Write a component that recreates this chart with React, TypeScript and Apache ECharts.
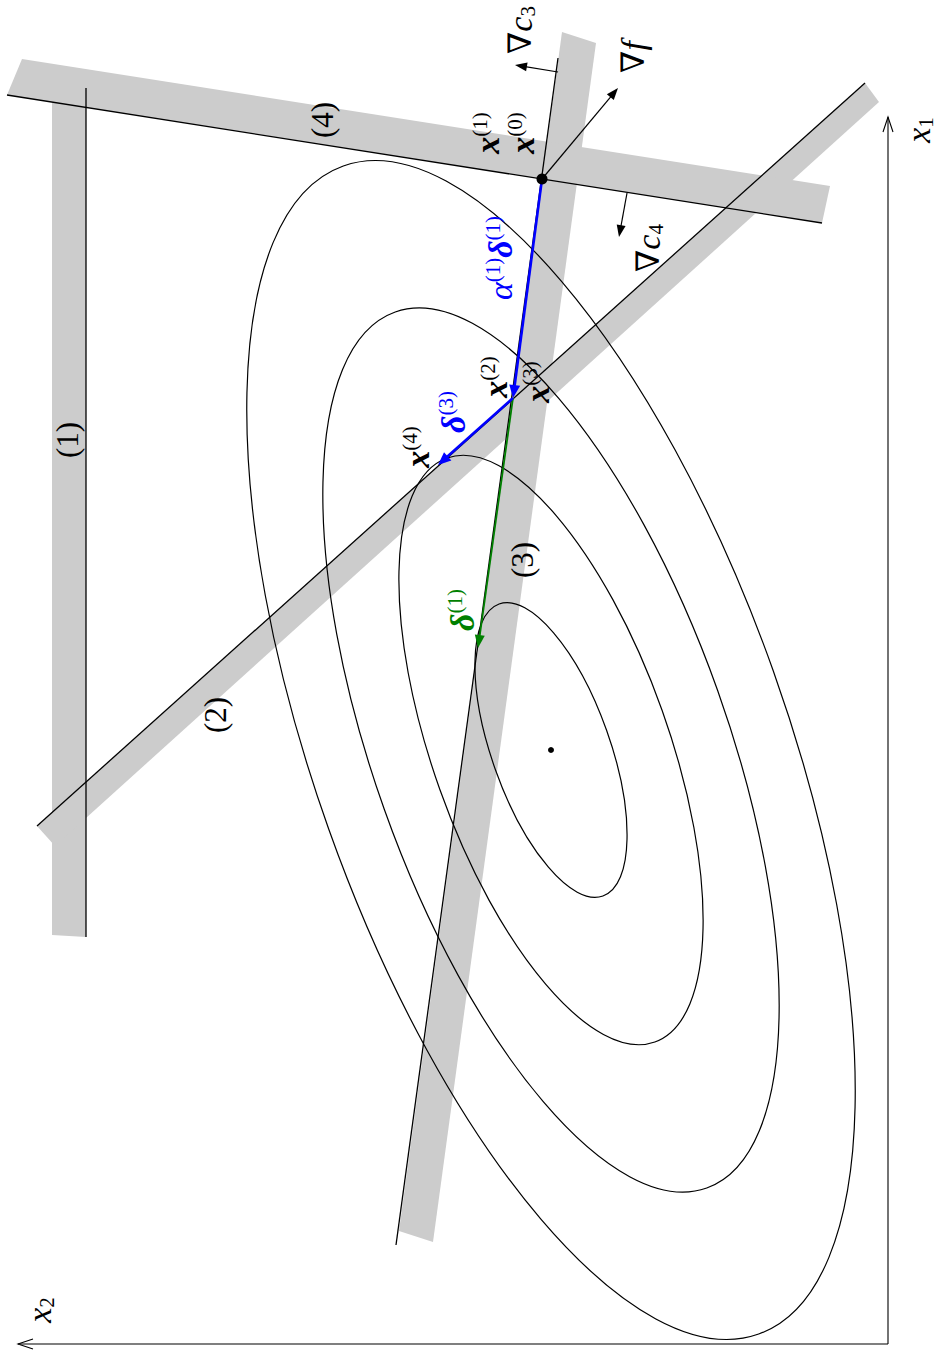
import React, { useEffect, useRef } from "react";
import * as echarts from "echarts";

// Data space: x2 (horizontal, grows to the left), x1 (vertical, grows upwards)
const constraintLines: number[][] = [
  [802, 1256, 802, 407], // (1)
  [851, 518, 23, 1261], // (2)
  [330, 1286, 492, 99], // (3)
  [881, 1249, 66, 1121], // (4)
];
const constraintBands: number[][] = [
  [836, 1244, 802, 1244, 802, 407, 836, 409],
  [851, 518, 23, 1261, 9, 1242, 833, 498],
  [326, 1312, 292, 1301, 455, 102, 489, 113],
  [866, 1285, 58, 1158, 66, 1121, 881, 1249],
];
const contourCenter = [337, 594];
const contourLevels = [1, 2, 3, 4];
const contourSemiAxes = [155, 59];
const contourAxisAngle = 70.4; // degrees, in data space

const pointX0 = [346, 1165];
const pointX2 = [375, 946];
const pointX4 = [450, 879];
const pointTangent = [410, 696];
const pointOptimum = [337, 594];
const gradFTip = [270, 1256];
const gradC3Base = [330, 1272];
const gradC3Tip = [373, 1279];
const gradC4Base = [261, 1151];
const gradC4Tip = [269, 1107];
const axisOrigin = [0, 0];
const axisX1End = [0, 1227];
const axisX2End = [870, 0];

const blackLabelTexts = [
  "{g|∇}{m|c}{u|3}",
  "{g|∇}{m|f}",
  "{b|x}{s|(1)}",
  "{b|x}{s|(0)}",
  "{g|∇}{m|c}{u|4}",
  "{b|x}{s|(2)}",
  "{b|x}{s|(3)}",
  "{b|x}{s|(4)}",
  "{n|(3)}",
  "{n|(1)}",
  "{n|(2)}",
  "{n|(4)}",
  "{m|x}{u|2}",
  "{m|x}{u|1}",
];
const blackLabelPositions = [
  [368, 1314],
  [255, 1287],
  [401, 1211],
  [366, 1211],
  [240, 1096],
  [393, 967],
  [351, 962],
  [471, 897],
  [366, 784],
  [821, 904],
  [673, 629],
  [566, 1224],
  [849, 34],
  [-30, 1214],
];
const blueLabelTexts = ["{m|α}{s|(1)}{b|δ}{s|(1)}", "{b|δ}{s|(3)}"];
const blueLabelPositions = [
  [388, 1086],
  [435, 932],
];
const greenLabelTexts = ["{b|δ}{s|(1)}"];
const greenLabelPositions = [[426, 734]];

const SERIF = "Liberation Serif, DejaVu Serif, serif";
const rich = {
  m: { fontFamily: SERIF, fontStyle: "italic", fontSize: 34, lineHeight: 36 },
  b: { fontFamily: SERIF, fontStyle: "italic", fontWeight: "bold", fontSize: 34, lineHeight: 36 },
  g: { fontFamily: "DejaVu Serif, serif", fontSize: 32, lineHeight: 36 },
  n: { fontFamily: SERIF, fontSize: 31, lineHeight: 36 },
  s: { fontFamily: SERIF, fontSize: 21, lineHeight: 22, verticalAlign: "top" },
  u: { fontFamily: SERIF, fontSize: 21, lineHeight: 22, verticalAlign: "bottom" },
};

function arrowRenderer(color: string, width: number, headLen: number, headHalf: number) {
  return (_p: any, api: any) => {
    const p0 = api.coord([api.value(0), api.value(1)]);
    const p1 = api.coord([api.value(2), api.value(3)]);
    const dx = p1[0] - p0[0];
    const dy = p1[1] - p0[1];
    const len = Math.hypot(dx, dy) || 1;
    const ux = dx / len;
    const uy = dy / len;
    const bx = p1[0] - ux * headLen;
    const by = p1[1] - uy * headLen;
    return {
      type: "group",
      children: [
        {
          type: "line",
          shape: { x1: p0[0], y1: p0[1], x2: p1[0] - ux * headLen * 0.6, y2: p1[1] - uy * headLen * 0.6 },
          style: { stroke: color, lineWidth: width },
        },
        {
          type: "polygon",
          shape: {
            points: [
              [p1[0], p1[1]],
              [bx - uy * headHalf, by + ux * headHalf],
              [bx + uy * headHalf, by - ux * headHalf],
            ],
          },
          style: { fill: color },
        },
      ],
    };
  };
}

function axisRenderer(_p: any, api: any) {
  const p0 = api.coord([api.value(0), api.value(1)]);
  const p1 = api.coord([api.value(2), api.value(3)]);
  const dx = p1[0] - p0[0];
  const dy = p1[1] - p0[1];
  const len = Math.hypot(dx, dy) || 1;
  const ux = dx / len;
  const uy = dy / len;
  const hl = 15;
  const hw = 5;
  const bx = p1[0] - ux * hl;
  const by = p1[1] - uy * hl;
  return {
    type: "group",
    children: [
      { type: "line", shape: { x1: p0[0], y1: p0[1], x2: p1[0], y2: p1[1] }, style: { stroke: "#000", lineWidth: 1.1 } },
      {
        type: "polyline",
        shape: {
          points: [
            [bx - uy * hw, by + ux * hw],
            [p1[0], p1[1]],
            [bx + uy * hw, by - ux * hw],
          ],
        },
        style: { stroke: "#000", lineWidth: 1.1, fill: "none" },
      },
    ],
  };
}

function labelRenderer(color: string, texts: string[]) {
  return (params: any, api: any) => {
    const c = api.coord([api.value(0), api.value(1)]);
    return {
      type: "text",
      x: c[0],
      y: c[1],
      rotation: Math.PI / 2,
      style: {
        text: texts[params.dataIndex],
        rich,
        fill: color,
        align: "center",
        verticalAlign: "middle",
      },
    };
  };
}

export default function App() {
  const ref = useRef<HTMLDivElement>(null);
  useEffect(() => {
    if (!ref.current) return;
    const chart = echarts.init(ref.current, null, { renderer: "svg" });
    const base = { type: "custom", coordinateSystem: "cartesian2d", silent: true, clip: false };
    chart.setOption({
      animation: false,
      backgroundColor: "#ffffff",
      grid: { left: 0, top: 0, width: 938, height: 1350 },
      xAxis: { type: "value", min: -50, max: 888, inverse: true, show: false },
      yAxis: { type: "value", min: -6, max: 1344, show: false },
      series: [
        {
          ...base,
          name: "bands",
          data: constraintBands,
          renderItem: (_p: any, api: any) => {
            const pts: number[][] = [];
            for (let i = 0; i < 8; i += 2) pts.push(api.coord([api.value(i), api.value(i + 1)]));
            return { type: "polygon", shape: { points: pts }, style: { fill: "#cccccc" } };
          },
        },
        {
          ...base,
          name: "contours",
          data: contourLevels.map((l) => [
            contourCenter[0],
            contourCenter[1],
            contourSemiAxes[0] * l,
            contourSemiAxes[1] * l,
            contourAxisAngle,
          ]),
          renderItem: (_p: any, api: any) => {
            const cx = api.value(0);
            const cy = api.value(1);
            const a = api.value(2);
            const b = api.value(3);
            const ang = (api.value(4) * Math.PI) / 180;
            const c = api.coord([cx, cy]);
            const pa = api.coord([cx + Math.cos(ang) * a, cy + Math.sin(ang) * a]);
            const ref2 = api.coord([cx + b, cy]);
            const rx = Math.hypot(pa[0] - c[0], pa[1] - c[1]);
            const ry = Math.abs(ref2[0] - c[0]);
            const rot = -Math.atan2(pa[1] - c[1], pa[0] - c[0]);
            return {
              type: "ellipse",
              x: c[0],
              y: c[1],
              rotation: rot,
              shape: { cx: 0, cy: 0, rx, ry },
              style: { fill: "none", stroke: "#000", lineWidth: 1.2 },
            };
          },
        },
        {
          ...base,
          name: "constraints",
          data: constraintLines,
          renderItem: (_p: any, api: any) => {
            const p0 = api.coord([api.value(0), api.value(1)]);
            const p1 = api.coord([api.value(2), api.value(3)]);
            return {
              type: "line",
              shape: { x1: p0[0], y1: p0[1], x2: p1[0], y2: p1[1] },
              style: { stroke: "#000", lineWidth: 1.3 },
            };
          },
        },
        {
          ...base,
          name: "axes",
          data: [
            [...axisOrigin, ...axisX1End],
            [...axisOrigin, ...axisX2End],
          ],
          renderItem: axisRenderer,
        },
        {
          ...base,
          name: "gradients",
          data: [
            [...pointX0, ...gradFTip],
            [...gradC3Base, ...gradC3Tip],
            [...gradC4Base, ...gradC4Tip],
          ],
          renderItem: arrowRenderer("#000", 1.2, 12, 4.5),
        },
        {
          ...base,
          name: "greenStep",
          data: [[...pointX2, ...pointTangent]],
          renderItem: arrowRenderer("#008000", 1.8, 13, 5),
        },
        {
          ...base,
          name: "blueSteps",
          data: [
            [...pointX0, ...pointX2],
            [...pointX2, ...pointX4],
          ],
          renderItem: arrowRenderer("#0000ff", 2.6, 13, 5.5),
        },
        {
          ...base,
          name: "dots",
          data: [
            [...pointX0, 5.5],
            [...pointOptimum, 3],
          ],
          renderItem: (_p: any, api: any) => {
            const c = api.coord([api.value(0), api.value(1)]);
            return { type: "circle", shape: { cx: c[0], cy: c[1], r: api.value(2) }, style: { fill: "#000" } };
          },
        },
        { ...base, name: "labels", data: blackLabelPositions, renderItem: labelRenderer("#000", blackLabelTexts) },
        { ...base, name: "blueLabels", data: blueLabelPositions, renderItem: labelRenderer("#0000ff", blueLabelTexts) },
        { ...base, name: "greenLabels", data: greenLabelPositions, renderItem: labelRenderer("#008000", greenLabelTexts) },
      ],
    });
    return () => chart.dispose();
  }, []);
  return (
    <div
      ref={ref}
      style={{ position: "fixed", left: 0, top: 0, width: 938, height: 1350, background: "#fff" }}
    />
  );
}
